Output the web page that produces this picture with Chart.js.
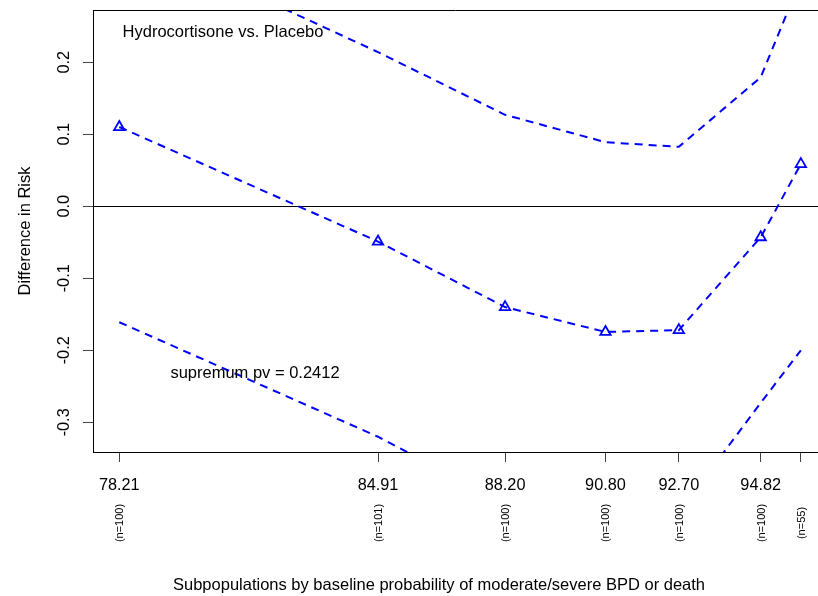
<!DOCTYPE html>
<html>
<head>
<meta charset="utf-8">
<script src="https://cdn.jsdelivr.net/npm/chart.js@4/dist/chart.umd.min.js"></script>
<style>
  html, body { margin: 0; padding: 0; background: #fff; }
  #wrap { width: 818px; height: 596px; }
</style>
</head>
<body>
<div id="wrap"><canvas id="c" width="818" height="596"></canvas></div>
<script>
// ---- data ----
const xValues = [78.21, 84.91, 88.20, 90.80, 92.70, 94.82, 95.86];
const xTickLabels = ['78.21', '84.91', '88.20', '90.80', '92.70', '94.82', ''];
const nLabels = ['(n=100)', '(n=101)', '(n=100)', '(n=100)', '(n=100)', '(n=100)', '(n=55)'];
const estimate = [0.110, -0.049, -0.140, -0.1745, -0.172, -0.043, 0.0585];
const upperCI = [0.380, 0.214, 0.127, 0.089, 0.0825, 0.179, 0.315];
const lowerCI = [-0.161, -0.320, -0.413, -0.438, -0.425, -0.273, -0.200];
const yTicks = [-0.3, -0.2, -0.1, 0.0, 0.1, 0.2];
const yTickLabels = ['-0.3', '-0.2', '-0.1', '0.0', '0.1', '0.2'];
const title = 'Hydrocortisone vs. Placebo';
const pvText = 'supremum pv = 0.2412';
const xTitle = 'Subpopulations by baseline probability of moderate/severe BPD or death';
const yTitle = 'Difference in Risk';

const FONT = '"Liberation Sans", Arial, Helvetica, sans-serif';
const BLUE = '#0000ff';

const toPts = arr => xValues.map((x, i) => ({ x: x, y: arr[i] }));

const lineBase = {
  borderColor: BLUE,
  borderWidth: 2,
  borderDash: [8, 6],
  tension: 0,
  fill: false
};

const customDraw = {
  id: 'customDraw',
  afterDraw(chart) {
    const ctx = chart.ctx;
    const xs = chart.scales.x, ys = chart.scales.y;
    const ca = chart.chartArea;
    ctx.save();
    // top border of the plot box
    ctx.strokeStyle = '#000';
    ctx.lineWidth = 1;
    ctx.beginPath();
    ctx.moveTo(ca.left, Math.round(ca.top) + 0.5);
    ctx.lineTo(ca.right, Math.round(ca.top) + 0.5);
    ctx.stroke();

    ctx.fillStyle = '#000';
    // x tick labels
    ctx.font = '16.3px ' + FONT;
    ctx.textAlign = 'center';
    ctx.textBaseline = 'alphabetic';
    xValues.forEach((v, i) => {
      ctx.fillText(xTickLabels[i], xs.getPixelForValue(v), ca.bottom + 38);
    });
    // n labels rotated
    ctx.font = '11px ' + FONT;
    xValues.forEach((v, i) => {
      ctx.save();
      ctx.translate(xs.getPixelForValue(v) + 4, ca.bottom + 71);
      ctx.rotate(-Math.PI / 2);
      ctx.textAlign = 'center';
      ctx.fillText(nLabels[i], 0, 0);
      ctx.restore();
    });
    // y tick labels rotated
    ctx.font = '16.3px ' + FONT;
    yTicks.forEach((v, i) => {
      ctx.save();
      ctx.translate(ca.left - 24, ys.getPixelForValue(v));
      ctx.rotate(-Math.PI / 2);
      ctx.textAlign = 'center';
      ctx.fillText(yTickLabels[i], 0, 0);
      ctx.restore();
    });
    ctx.font = '16.5px ' + FONT;
    // y title
    ctx.save();
    ctx.translate(30, (ca.top + ca.bottom) / 2);
    ctx.rotate(-Math.PI / 2);
    ctx.textAlign = 'center';
    ctx.fillText(yTitle, 0, 0);
    ctx.restore();
    // x title
    ctx.textAlign = 'center';
    ctx.fillText(xTitle, 439, 590);
    // annotations
    ctx.fillText(title, xs.getPixelForValue(80.896), ys.getPixelForValue(0.2344));
    ctx.fillText(pvText, xs.getPixelForValue(81.724), ys.getPixelForValue(-0.2383));
    ctx.restore();
  }
};

new Chart(document.getElementById('c'), {
  type: 'line',
  data: {
    datasets: [
      Object.assign({ label: 'upper', data: toPts(upperCI), pointRadius: 0 }, lineBase),
      Object.assign({ label: 'lower', data: toPts(lowerCI), pointRadius: 0 }, lineBase),
      Object.assign({
        label: 'estimate', data: toPts(estimate),
        pointStyle: 'triangle', pointRadius: 6, pointHoverRadius: 6,
        pointBorderColor: BLUE, pointBackgroundColor: 'rgba(0,0,0,0)', pointBorderWidth: 1.8
      }, lineBase)
    ]
  },
  options: {
    responsive: false,
    devicePixelRatio: 1,
    animation: false,
    events: [],
    layout: { autoPadding: false, padding: { top: 10, left: 0, right: 0, bottom: 0 } },
    plugins: { legend: { display: false }, tooltip: { enabled: false } },
    scales: {
      x: {
        type: 'linear',
        min: 77.529,
        max: 96.304,
        afterBuildTicks: s => { s.ticks = xValues.map(v => ({ value: v })); },
        afterFit: s => { s.height = 144; },
        ticks: { display: false },
        grid: { drawOnChartArea: false, drawTicks: true, tickLength: 10, color: '#000', tickColor: '#444' },
        border: { display: true, color: '#000', width: 1 }
      },
      y: {
        type: 'linear',
        min: -0.3412,
        max: 0.2725,
        afterBuildTicks: s => { s.ticks = yTicks.map(v => ({ value: v })); },
        afterFit: s => { s.width = 93; },
        ticks: { display: false },
        grid: {
          drawOnChartArea: true, drawTicks: true, tickLength: 10,
          color: c => (c.tick && c.tick.value === 0) ? '#000' : 'rgba(0,0,0,0)',
          tickColor: '#444'
        },
        border: { display: true, color: '#000', width: 1 }
      }
    }
  },
  plugins: [customDraw]
});
</script>
</body>
</html>
